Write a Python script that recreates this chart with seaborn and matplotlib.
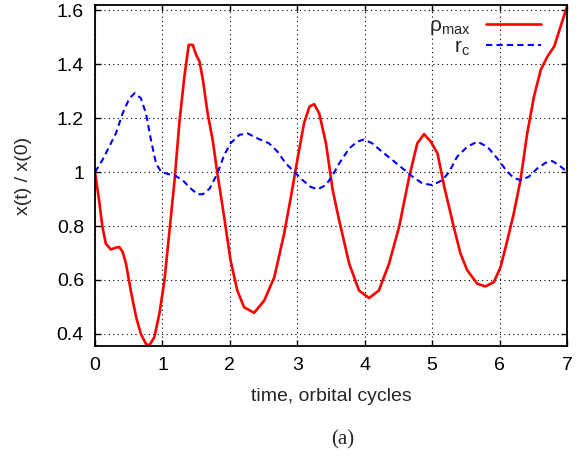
import numpy as np
import pandas as pd
import matplotlib
matplotlib.use("Agg")
import matplotlib.pyplot as plt
import seaborn as sns

# ---- data ----
t_rho = [0.00, 0.06, 0.11, 0.16, 0.235, 0.31, 0.36, 0.41, 0.46, 0.53, 0.61, 0.68, 0.755, 0.805,
         0.88, 0.955, 1.03, 1.10, 1.18, 1.25, 1.325, 1.39, 1.45, 1.50, 1.55, 1.60, 1.67, 1.745,
         1.815, 1.915, 2.01, 2.11, 2.21, 2.36, 2.51, 2.66, 2.805, 2.905, 3.00, 3.10, 3.18, 3.25,
         3.325, 3.425, 3.525, 3.62, 3.77, 3.915, 4.065, 4.21, 4.36, 4.51, 4.66, 4.78, 4.88, 4.98,
         5.08, 5.18, 5.28, 5.32, 5.42, 5.52, 5.67, 5.79, 5.915, 6.015, 6.115, 6.21, 6.31, 6.41,
         6.51, 6.61, 6.71, 6.81, 6.905, 7.00]
rho_max = [1.000, 0.896, 0.797, 0.735, 0.713, 0.720, 0.722, 0.704, 0.660, 0.561, 0.462, 0.400, 0.363, 0.357,
           0.388, 0.475, 0.599, 0.772, 0.970, 1.181, 1.354, 1.472, 1.472, 1.435, 1.410, 1.342, 1.218, 1.119,
           0.995, 0.834, 0.673, 0.561, 0.499, 0.478, 0.524, 0.611, 0.772, 0.908, 1.045, 1.181, 1.243, 1.252,
           1.218, 1.107, 0.933, 0.822, 0.660, 0.561, 0.533, 0.561, 0.660, 0.797, 0.983, 1.107, 1.141, 1.113,
           1.069, 0.945, 0.840, 0.797, 0.698, 0.636, 0.586, 0.576, 0.592, 0.648, 0.747, 0.846, 0.970, 1.144,
           1.280, 1.379, 1.429, 1.466, 1.540, 1.614]

t_rc = [0.00, 0.11, 0.21, 0.31, 0.41, 0.51, 0.59, 0.68, 0.755, 0.83, 0.905, 0.98, 1.08, 1.175,
        1.30, 1.42, 1.52, 1.60, 1.70, 1.815, 1.915, 2.01, 2.14, 2.26, 2.41, 2.58, 2.71, 2.83,
        2.955, 3.08, 3.20, 3.30, 3.425, 3.525, 3.62, 3.77, 3.89, 3.99, 4.11, 4.26, 4.41, 4.56,
        4.71, 4.855, 5.005, 5.15, 5.25, 5.37, 5.52, 5.67, 5.82, 5.965, 6.115, 6.21, 6.31, 6.435,
        6.56, 6.685, 6.78, 6.88, 7.00]
r_c = [1.000, 1.045, 1.094, 1.144, 1.218, 1.274, 1.293, 1.274, 1.218, 1.119, 1.032, 1.001, 0.993, 0.989,
       0.970, 0.939, 0.918, 0.918, 0.939, 0.995, 1.063, 1.107, 1.138, 1.144, 1.125, 1.107, 1.075, 1.032,
       1.001, 0.970, 0.945, 0.936, 0.952, 0.989, 1.032, 1.088, 1.113, 1.121, 1.107, 1.075, 1.045, 1.014,
       0.983, 0.958, 0.952, 0.970, 1.000, 1.057, 1.094, 1.113, 1.094, 1.051, 1.001, 0.979, 0.970, 0.983,
       1.014, 1.035, 1.041, 1.026, 1.001]

x_ticks = [0, 1, 2, 3, 4, 5, 6, 7]
y_ticks = [0.4, 0.6, 0.8, 1.0, 1.2, 1.4, 1.6]
y_tick_labels = ["0.4", "0.6", "0.8", "1", "1.2", "1.4", "1.6"]

sns.set_style("ticks")
plt.rcParams["font.family"] = ["Liberation Sans", "DejaVu Sans"]
plt.rcParams["mathtext.fontset"] = "custom"
plt.rcParams["mathtext.rm"] = "Liberation Sans"
plt.rcParams["mathtext.it"] = "Liberation Sans"

df_rho = pd.DataFrame({"t": t_rho, "v": rho_max})
df_rc = pd.DataFrame({"t": t_rc, "v": r_c})

fig = plt.figure(figsize=(5.84, 4.58), dpi=100)
ax = fig.add_axes([0.1627, 0.2445, 0.8082, 0.7435])

sns.lineplot(data=df_rho, x="t", y="v", ax=ax, color="#ff0000", linewidth=1.9,
             label=r"$\mathregular{\rho_{max}}$", sort=False)
sns.lineplot(data=df_rc, x="t", y="v", ax=ax, color="#0000ff", linewidth=1.5,
             label=r"$\mathregular{r_c}$", sort=False)
ax.lines[-1].set_linestyle((0, (3, 2)))
for ln in ax.lines:
    ln.set_solid_joinstyle("round")
    ln.set_dash_joinstyle("round")

ax.set_xlim(0, 7)
ax.set_ylim(0.355, 1.618)
ax.set_xticks(x_ticks)
ax.set_xticklabels([str(v) for v in x_ticks])
ax.set_yticks(y_ticks)
ax.set_yticklabels(y_tick_labels)
ax.tick_params(direction="in", length=4.5, width=1, top=True, right=True,
               labelsize=14, colors="black", pad=8)
for s in ax.spines.values():
    s.set_linewidth(1.3)
    s.set_color("black")
ax.grid(True, color="black", linestyle=(0, (1, 3)), linewidth=0.8)

ax.set_xlabel("time, orbital cycles", fontsize=14, labelpad=10)
ax.set_ylabel("x(t) / x(0)", fontsize=14, labelpad=18)

leg = ax.legend(loc="upper right", frameon=False, markerfirst=False, fontsize=15,
                handlelength=2.65, handletextpad=0.75, labelspacing=0.0,
                borderpad=0, borderaxespad=0, bbox_to_anchor=(0.945, 0.968))
for txt in leg.get_texts():
    txt.set_ha("right")

fig.text(0.586, 0.039, "(a)", ha="center", va="center", fontsize=15,
         family=["Liberation Serif", "DejaVu Serif"])

fig.savefig("out.png", dpi=100)
